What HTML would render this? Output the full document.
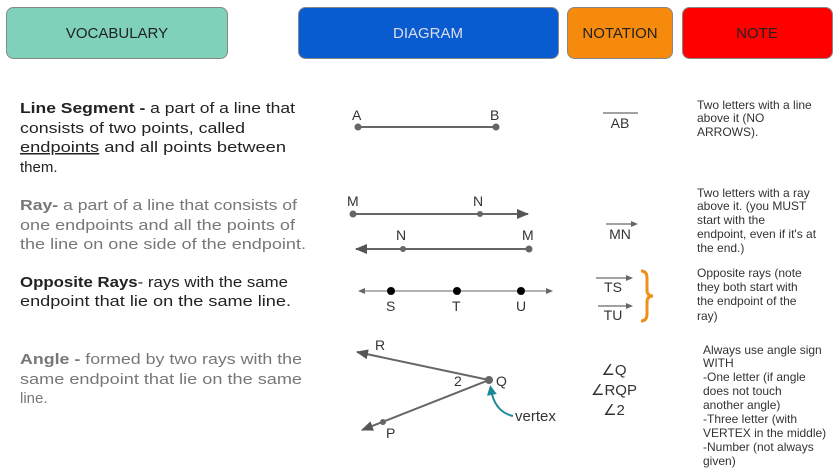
<!DOCTYPE html>
<html><head><meta charset="utf-8"><style>
html,body{margin:0;padding:0;background:#fff;}
svg{display:block;font-family:"Liberation Sans",sans-serif;}
</style></head><body>
<svg width="840" height="472" viewBox="0 0 840 472" xmlns="http://www.w3.org/2000/svg">
<defs>
<marker id="ah2" markerWidth="12" markerHeight="10" refX="11" refY="5" orient="auto" markerUnits="userSpaceOnUse"><path d="M0,0 L12,5 L0,10 z" fill="#555"/></marker>
<marker id="ahs" markerWidth="7" markerHeight="6" refX="6" refY="3" orient="auto" markerUnits="userSpaceOnUse"><path d="M0,0 L7,3 L0,6 z" fill="#666"/></marker>
<marker id="aht" markerWidth="10" markerHeight="10" refX="5" refY="5" orient="auto" markerUnits="userSpaceOnUse"><path d="M0,0 L10,5 L0,10 z" fill="#1a8a99"/></marker>
</defs>
<rect x="6.5" y="7.5" width="221" height="51" rx="7" fill="#7fd1b9" stroke="#888"/>
<text x="117" y="38" font-size="15" text-anchor="middle" fill="#222">VOCABULARY</text>
<rect x="298.5" y="7.5" width="260" height="51" rx="7" fill="#085ccf" stroke="#888"/>
<text x="428" y="38" font-size="15" text-anchor="middle" fill="#dde">DIAGRAM</text>
<rect x="567.5" y="7.5" width="105" height="51" rx="7" fill="#f68a0c" stroke="#888"/>
<text x="620" y="38" font-size="15" text-anchor="middle" fill="#222">NOTATION</text>
<rect x="682.5" y="7.5" width="150" height="51" rx="7" fill="#fe0000" stroke="#888"/>
<text x="757" y="38" font-size="15" text-anchor="middle" fill="#222">NOTE</text>

<g font-size="15" fill="#222">
<text x="20" y="113" textLength="275" lengthAdjust="spacingAndGlyphs"><tspan font-weight="bold">Line Segment -</tspan> a part of a line that</text>
<text x="20" y="133" textLength="225" lengthAdjust="spacingAndGlyphs">consists of two points, called</text>
<text x="20" y="152" textLength="266" lengthAdjust="spacingAndGlyphs"><tspan text-decoration="underline">endpoints</tspan> and all points between</text>
<text x="20" y="172">them.</text>
</g>
<g font-size="15" fill="#777">
<text x="20" y="210" textLength="277" lengthAdjust="spacingAndGlyphs"><tspan font-weight="bold">Ray-</tspan> a part of a line that consists of</text>
<text x="20" y="230" textLength="275" lengthAdjust="spacingAndGlyphs">one endpoints and all the points of</text>
<text x="20" y="249" textLength="286" lengthAdjust="spacingAndGlyphs">the line on one side of the endpoint.</text>
</g>
<g font-size="15" fill="#222">
<text x="20" y="287" textLength="268" lengthAdjust="spacingAndGlyphs"><tspan font-weight="bold">Opposite Rays</tspan>- rays with the same</text>
<text x="20" y="306" textLength="271" lengthAdjust="spacingAndGlyphs">endpoint that lie on the same line.</text>
</g>
<g font-size="15" fill="#777">
<text x="20" y="364" textLength="282" lengthAdjust="spacingAndGlyphs"><tspan font-weight="bold">Angle -</tspan> formed by two rays with the</text>
<text x="20" y="384" textLength="282" lengthAdjust="spacingAndGlyphs">same endpoint that lie on the same</text>
<text x="20" y="403">line.</text>
</g>

<g font-size="14" fill="#333">
<text x="352" y="120">A</text><text x="490" y="120">B</text>
<line x1="358" y1="127" x2="496" y2="127" stroke="#666" stroke-width="2"/>
<circle cx="358" cy="127" r="3.5" fill="#666"/><circle cx="496" cy="127" r="3.5" fill="#666"/>

<text x="347" y="206">M</text><text x="473" y="206">N</text>
<line x1="353" y1="214" x2="528" y2="214" stroke="#666" stroke-width="2" marker-end="url(#ah2)"/>
<circle cx="353" cy="214" r="3.5" fill="#666"/><circle cx="480" cy="214" r="3" fill="#666"/>
<text x="396" y="240">N</text><text x="522" y="240">M</text>
<line x1="529" y1="249" x2="356" y2="249" stroke="#666" stroke-width="2" marker-end="url(#ah2)"/>
<circle cx="529" cy="249" r="3.5" fill="#666"/><circle cx="403" cy="249" r="3" fill="#666"/>

<line x1="391" y1="291" x2="359" y2="291" stroke="#666" stroke-width="1" marker-end="url(#ahs)"/>
<line x1="391" y1="291" x2="552" y2="291" stroke="#666" stroke-width="1" marker-end="url(#ahs)"/>
<circle cx="391" cy="291" r="4" fill="#000"/><circle cx="457" cy="291" r="4" fill="#000"/><circle cx="521" cy="291" r="4" fill="#000"/>
<text x="386" y="311">S</text><text x="452" y="311">T</text><text x="516" y="311">U</text>

<line x1="489" y1="380" x2="357" y2="352" stroke="#666" stroke-width="2" marker-end="url(#ah2)"/>
<line x1="489" y1="380" x2="362" y2="430" stroke="#666" stroke-width="2" marker-end="url(#ah2)"/>
<circle cx="489" cy="380" r="4" fill="#666"/><circle cx="383" cy="422" r="3" fill="#666"/>
<text x="375" y="350">R</text><text x="386" y="438">P</text>
<text x="454" y="386">2</text><text x="496" y="386">Q</text>
<text x="515" y="421" font-size="15" fill="#333">vertex</text>
<path d="M513,416 Q495,412 491,390" fill="none" stroke="#1a8a99" stroke-width="2" marker-end="url(#aht)"/>
</g>

<g font-size="14" fill="#333" text-anchor="middle">
<line x1="603" y1="113" x2="638" y2="113" stroke="#444"/>
<text x="620" y="128">AB</text>
<line x1="606" y1="224" x2="637" y2="224" stroke="#444" marker-end="url(#ahs)"/>
<text x="620" y="239">MN</text>
<line x1="596" y1="278" x2="632" y2="278" stroke="#444" marker-end="url(#ahs)"/>
<text x="613" y="292">TS</text>
<line x1="598" y1="306" x2="632" y2="306" stroke="#444" marker-end="url(#ahs)"/>
<text x="613" y="320">TU</text>
<path d="M641,271 Q647,271 647,278 L647,290 Q647,296 653,296 Q647,296 647,302 L647,314 Q647,321 641,321" fill="none" stroke="#f0901a" stroke-width="3"/>
<text x="614" y="375" font-size="15">∠Q</text>
<text x="614" y="395" font-size="15">∠RQP</text>
<text x="614" y="415" font-size="15">∠2</text>
</g>

<g font-size="12" fill="#333">
<text x="697" y="109">Two letters with a line</text>
<text x="697" y="122">above it (NO</text>
<text x="697" y="136">ARROWS).</text>
<text x="697" y="197">Two letters with a ray</text>
<text x="697" y="210">above it. (you MUST</text>
<text x="697" y="224">start with the</text>
<text x="697" y="238">endpoint, even if it's at</text>
<text x="697" y="252">the end.)</text>
<text x="697" y="277">Opposite rays (note</text>
<text x="697" y="291">they both start with</text>
<text x="697" y="305">the endpoint of the</text>
<text x="697" y="320">ray)</text>
<text x="703" y="354">Always use angle sign</text>
<text x="703" y="367">WITH</text>
<text x="703" y="381">-One letter (if angle</text>
<text x="703" y="395">does not touch</text>
<text x="703" y="409">another angle)</text>
<text x="703" y="423">-Three letter (with</text>
<text x="703" y="437">VERTEX in the middle)</text>
<text x="703" y="451">-Number (not always</text>
<text x="703" y="465">given)</text>
</g>
</svg>
</body></html>
